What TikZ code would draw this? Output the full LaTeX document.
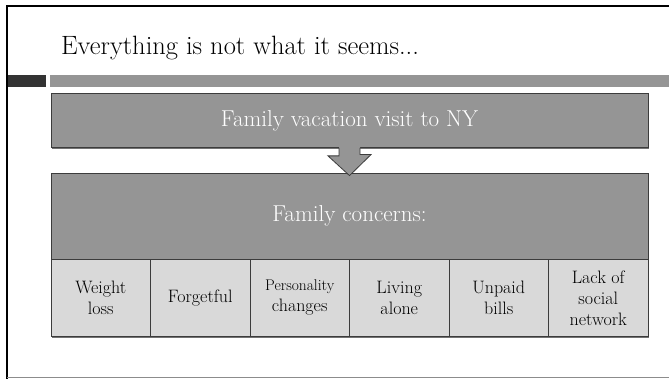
\documentclass[tikz,border=0pt]{standalone}
\usepackage{tikz}
\usetikzlibrary{shadows}
\definecolor{boxgray}{HTML}{959595}
\definecolor{cellgray}{HTML}{D9D9D9}
\definecolor{bardark}{HTML}{333333}
\definecolor{edgegray}{HTML}{3C3C3C}
\begin{document}
\begin{tikzpicture}[x=1pt,y=-1pt,
  box/.style={draw=edgegray,line width=0.8pt,fill=boxgray,text=white,
    align=center,inner sep=0pt,
    drop shadow={shadow xshift=1pt,shadow yshift=-1.5pt,fill=black!55,opacity=1}},
  mainbox/.style={box,minimum width=597pt,font=\fontsize{23}{27}\selectfont},
  cell/.style={box,fill=cellgray,text=black,minimum width=99.5pt,
    minimum height=77.7pt,font=\fontsize{18}{21}\selectfont},
  blockarrow/.style={draw=edgegray,line width=0.8pt,line join=miter}]
\useasboundingbox (0,0) rectangle (669,379);
\fill[white] (0,0) rectangle (669,379);
\draw[black,line width=2.4pt] (7,379) -- (7,6) -- (669,6);
\draw[black!45,line width=0.8pt] (7,377.6) -- (669,377.6);
\fill[bardark] (8,75) rectangle (45.7,87);
\fill[boxgray] (50,75) rectangle (669,87);
\node[anchor=base west,font=\fontsize{26.5}{30}\selectfont,text=black]
  (title) at (57.5,55) {Everything is not what it seems...};
\node[mainbox,minimum height=54pt] (visit) at (349.5,120.5)
  {Family vacation visit to NY};
\node[mainbox,minimum height=86pt] (concerns) at (349.5,216)
  {Family concerns:};
\foreach \txt [count=\i] in {Weight\\loss,Forgetful,
    {\fontsize{15.5}{16.5}\selectfont Personality\\changes},
    Living\\alone,Unpaid\\bills,Lack of\\social\\network}
  \node[cell] (cell\i) at ({51+49.75+(\i-1)*99.5},297.85) {\txt};
\fill[boxgray] ([xshift=-10.5pt,yshift=1pt]visit.south) -- ++(0,9) -- ++(-11,0)
  -- ([yshift=-3pt]concerns.north) -- ++(21.5,-21) -- ++(-11,0)
  -- ([xshift=10.5pt,yshift=1pt]visit.south) -- cycle;
\draw[blockarrow] ([xshift=-10.5pt]visit.south) -- ++(0,8) -- ++(-11,0)
  -- ([yshift=-3pt]concerns.north) -- ++(21.5,-21) -- ++(-11,0)
  -- ([xshift=10.5pt]visit.south);
\end{tikzpicture}
\end{document}
